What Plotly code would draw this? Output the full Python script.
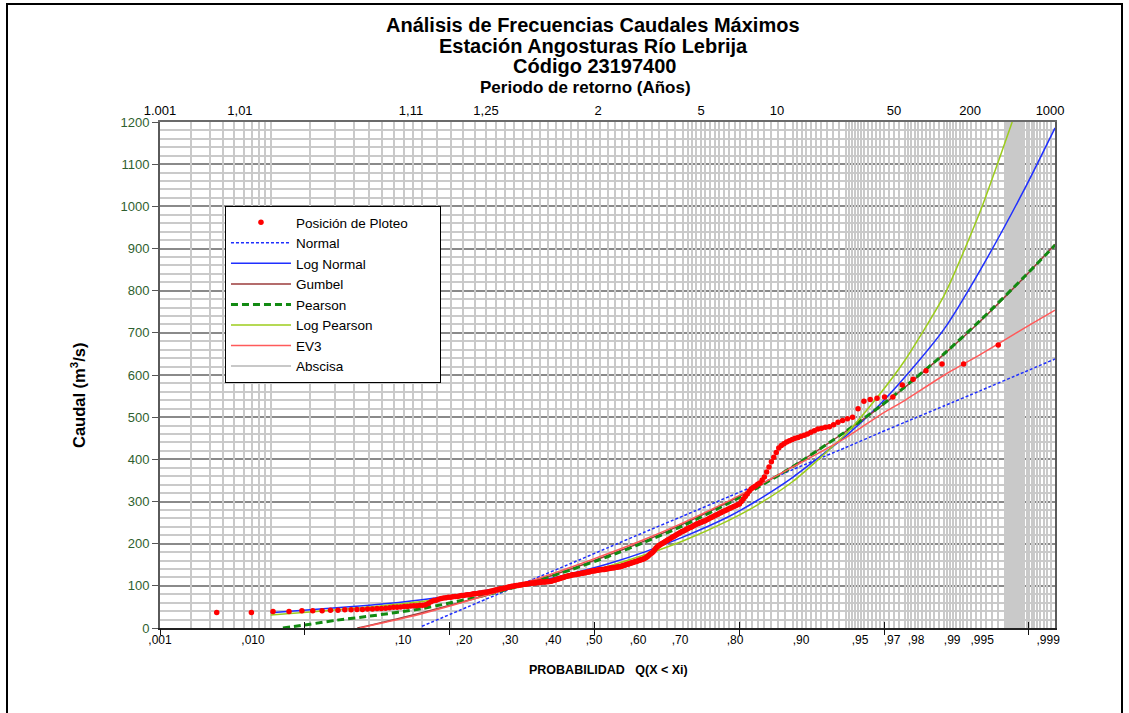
import numpy as np
import plotly.graph_objects as go
from statistics import NormalDist

_nd = NormalDist()


def zq(p):
    """Normal probability-paper coordinate for a non-exceedance probability."""
    return [None if (v is None) else _nd.inv_cdf(v) for v in p]


# ------------------------------------------------------------------ data
# observed annual maxima (sorted), plotted at Weibull positions i/(n+1)
caudal_obs = [
    37, 37, 39, 39, 41, 41, 41, 42, 42, 43,
    43, 44, 44, 45, 45, 46, 46, 47, 48, 49,
    49, 50, 51, 51, 52, 53, 53, 54, 54, 55,
    58, 62, 65, 66, 68, 70, 71, 72, 73, 73,
    74, 75, 75, 76, 77, 77, 78, 79, 79, 80,
    81, 81, 82, 83, 83, 84, 85, 85, 86, 87,
    88, 89, 90, 91, 92, 93, 93, 94, 95, 96,
    97, 98, 99, 99, 100, 101, 101, 102, 102, 103,
    104, 104, 105, 105, 106, 106, 107, 107, 107, 108,
    108, 108, 109, 109, 109, 109, 110, 110, 110, 111,
    112, 113, 114, 115, 116, 117, 118, 119, 120, 121,
    122, 123, 124, 124, 125, 126, 126, 127, 127, 128,
    128, 129, 130, 130, 131, 131, 132, 133, 133, 134,
    135, 135, 136, 136, 137, 137, 138, 138, 139, 139,
    139, 140, 140, 141, 141, 142, 142, 143, 143, 144,
    144, 145, 145, 146, 147, 148, 149, 150, 151, 152,
    153, 154, 155, 156, 157, 158, 159, 160, 161, 162,
    163, 164, 166, 168, 170, 173, 176, 178, 181, 185,
    189, 192, 195, 197, 199, 201, 203, 205, 207, 209,
    211, 213, 215, 217, 219, 221, 223, 225, 227, 229,
    230, 232, 234, 236, 238, 239, 241, 243, 245, 247,
    248, 250, 251, 253, 254, 256, 258, 260, 262, 264,
    266, 268, 270, 272, 274, 276, 278, 280, 282, 284,
    286, 288, 290, 292, 294, 300, 306, 312, 318, 325,
    330, 334, 337, 341, 344, 351, 358, 370, 382, 394,
    405, 416, 427, 433, 437, 441, 444, 447, 450, 452,
    455, 457, 460, 464, 468, 472, 474, 476, 477, 482,
    488, 492, 496, 500, 520, 538, 542, 545, 548, 548,
    576, 590, 610, 626, 626, 671,
]

# fitted distributions: probability Q(X<Xi) and discharge (m3/s)
p_normal = [0.1, 0.2, 0.3, 0.4, 0.5, 0.6, 0.7, 0.8, 0.85, 0.9, 0.95, 0.97, 0.98, 0.99, 0.995, 0.998, 0.999]
q_normal = [4, 68, 114, 153, 190, 227, 266, 312, 340, 376, 428, 463, 488, 527, 563, 607, 638]

p_lognormal = [0.01, 0.02, 0.05, 0.1, 0.2, 0.3, 0.4, 0.5, 0.6, 0.7, 0.8, 0.85, 0.9, 0.95, 0.97, 0.98, 0.99, 0.995, 0.998, 0.999]
q_lognormal = [36, 43, 54, 67, 89, 108, 129, 152, 180, 216, 265, 303, 358, 455, 530, 595, 710, 850, 1040, 1186]

p_gumbel = [0.042, 0.05, 0.1, 0.2, 0.3, 0.4, 0.5, 0.6, 0.7, 0.8, 0.85, 0.9, 0.95, 0.97, 0.98, 0.99, 0.995, 0.998, 0.999]
q_gumbel = [0, 6, 36, 77, 109, 140, 172, 206, 247, 300, 335, 384, 466, 524, 571, 650, 728, 832, 910]

p_pearson = [0.0125, 0.02, 0.03, 0.05, 0.1, 0.2, 0.3, 0.4, 0.5, 0.6, 0.7, 0.8, 0.85, 0.9, 0.95, 0.97, 0.98, 0.99, 0.995, 0.998, 0.999]
q_pearson = [0, 9, 18, 28, 46, 78, 108, 138, 169, 203, 243, 297, 333, 383, 466, 525, 572, 651, 730, 833, 908]

p_logpearson = [0.01, 0.02, 0.05, 0.1, 0.2, 0.3, 0.4, 0.5, 0.6, 0.7, 0.8, 0.85, 0.9, 0.95, 0.97, 0.98, 0.99, 0.995, 0.9974]
q_logpearson = [31, 38, 50, 63, 85, 104, 124, 146, 173, 207, 256, 292, 348, 460, 555, 635, 790, 990, 1200]

p_ev3 = [0.0436, 0.05, 0.1, 0.2, 0.3, 0.4, 0.5, 0.6, 0.7, 0.8, 0.85, 0.9, 0.95, 0.97, 0.98, 0.99, 0.995, 0.998, 0.999]
q_ev3 = [0, 5, 34, 77, 112, 144, 176, 210, 250, 302, 337, 382, 451, 505, 540, 600, 649, 711, 754]

# axis labelling
prob_labels = [",001", ",010", ",10", ",20", ",30", ",40", ",50", ",60", ",70", ",80",
               ",90", ",95", ",97", ",98", ",99", ",995", ",999"]
prob_label_pos = [-3.09, -2.448, -1.412, -0.991, -0.673, -0.376, -0.093, 0.211, 0.501, 0.881,
                  1.337, 1.744, 1.965, 2.131, 2.380, 2.587, 3.043]
tr_labels = ["1.001", "1,01", "1,11", "1,25", "2", "5", "10", "50", "200", "1000"]
tr_label_pos = [-3.09, -2.538, -1.357, -0.839, -0.065, 0.646, 1.171, 1.979, 2.504, 3.056]

# probability-paper grid (the "Abscisa" lines)
grid_p = np.concatenate([
    np.arange(0.002, 0.0101, 0.001),
    np.arange(0.02, 0.1001, 0.01),
    np.arange(0.12, 0.7001, 0.02),
    np.arange(0.71, 0.9001, 0.01),
    np.arange(0.905, 0.9501, 0.005),
    np.arange(0.952, 0.9801, 0.002),
    np.arange(0.981, 0.9901, 0.001),
    np.arange(0.9905, 0.99701, 0.0005),
    np.arange(0.99711, 0.99772, 0.00003),
    np.arange(0.9978, 0.99895, 0.0001),
])

ZMIN, ZMAX = -3.09, 3.09
FONT = "Arial, Liberation Sans, sans-serif"

fig = go.Figure()

n = len(caudal_obs)
p_obs = [(i + 1) / (n + 1) for i in range(n)]

line_specs = [
    ("Normal", p_normal, q_normal, dict(color="#1f2fff", width=1.5, dash="3px,2px"), 2),
    ("Log Normal", p_lognormal, q_lognormal, dict(color="#1f2fff", width=1.5), 3),
    ("Gumbel", p_gumbel, q_gumbel, dict(color="#9b3b3b", width=1.5), 4),
    ("Pearson", p_pearson, q_pearson, dict(color="#128a12", width=3, dash="7px,4px"), 5),
    ("Log Pearson", p_logpearson, q_logpearson, dict(color="#9ccc1c", width=1.5), 6),
    ("EV3", p_ev3, q_ev3, dict(color="#ff5a5a", width=1.5), 7),
]

# Abscisa (legend entry for the probability grid)
fig.add_trace(go.Scatter(x=[None], y=[None], mode="lines", name="Abscisa",
                         line=dict(color="#c8c8c8", width=2), legendrank=8))

for name, pp, qq, ln, rank in line_specs:
    fig.add_trace(go.Scatter(x=zq(pp), y=qq, mode="lines", name=name,
                             line=dict(shape="spline", smoothing=0.6, **ln),
                             legendrank=rank, hoverinfo="skip"))

fig.add_trace(go.Scatter(x=zq(p_obs), y=caudal_obs, mode="markers",
                         name="Posición de Ploteo" + "&nbsp;" * 7,
                         marker=dict(color="#ff0000", size=5.5, line=dict(width=0)),
                         legendrank=1))

# helper traces for the overlay axes
for ax in ["x2", "x3", "x4", "x5"]:
    fig.add_trace(go.Scatter(x=[None], y=[None], xaxis=ax, showlegend=False, hoverinfo="skip"))

fig.update_layout(
    width=1129, height=713,
    margin=dict(l=160, r=74, t=122, b=85),
    paper_bgcolor="white", plot_bgcolor="white",
    font=dict(family=FONT, color="black", size=12),
    showlegend=True,
    legend=dict(x=0.0726, y=0.834, xanchor="left", yanchor="top",
                bordercolor="black", borderwidth=1, bgcolor="white",
                font=dict(size=13.5, family=FONT), itemwidth=60,
                tracegroupgap=0),
    xaxis=dict(range=[ZMIN, ZMAX], tickmode="array", tickvals=prob_label_pos,
               ticktext=prob_labels, ticks="", showgrid=False, zeroline=False,
               showline=True, linecolor="#222", linewidth=2, mirror=False,
               tickfont=dict(size=12, color="black"), layer="above traces"),
    xaxis2=dict(range=[ZMIN, ZMAX], overlaying="x", side="top", tickmode="array",
                tickvals=tr_label_pos, ticktext=tr_labels, ticks="", showgrid=False,
                zeroline=False, showline=True, linecolor="#6a6a6a", linewidth=2,
                tickfont=dict(size=13, color="black")),
    xaxis3=dict(range=[ZMIN, ZMAX], overlaying="x", tickmode="array",
                tickvals=zq(list(grid_p)), showticklabels=False, ticks="",
                showgrid=True, gridcolor="#c9c9c9", gridwidth=2, zeroline=False,
                showline=False),
    xaxis4=dict(range=[ZMIN, ZMAX], overlaying="x", tickmode="linear", tick0=ZMIN, dtick=1,
                showticklabels=False, ticks="outside", ticklen=6, tickcolor="#111",
                tickwidth=1, showgrid=False, zeroline=False, showline=False),
    xaxis5=dict(range=[ZMIN, ZMAX], overlaying="x", tickmode="linear", tick0=ZMIN, dtick=1,
                showticklabels=False, ticks="inside", ticklen=6, tickcolor="#111",
                tickwidth=1, showgrid=False, zeroline=False, showline=False),
    yaxis=dict(range=[0, 1200], tickmode="linear", tick0=0, dtick=100,
               showgrid=True, gridcolor="#8a8a8a", gridwidth=1.5,
               minor=dict(dtick=20, showgrid=True, gridcolor="#cacaca", gridwidth=1.5),
               ticks="outside", ticklen=6, tickcolor="#555",
               showline=True, linecolor="#5a5a5a", linewidth=2, mirror=True,
               zeroline=False, tickfont=dict(size=13, color="#2f5f2f")),
)

px_x = lambda px: (px - 160) / 895.0
px_y = lambda py: (628 - py) / 506.0

annots = [
    ("<b>Análisis de Frecuencias Caudales Máximos</b>", 593, 25, 20),
    ("<b>Estación Angosturas Río Lebrija</b>", 593, 46, 20),
    ("<b>Código 23197400</b>", 594, 66, 20),
    ("<b>Periodo de retorno (Años)</b>", 585, 88, 17),
    ("<b>PROBABILIDAD&nbsp;&nbsp;&nbsp;Q(X &lt; Xi)</b>", 608, 670, 12.5),
]
for txt, xp, yp, fs in annots:
    fig.add_annotation(text=txt, x=px_x(xp), y=px_y(yp), xref="paper", yref="paper",
                       showarrow=False, xanchor="center", yanchor="middle",
                       font=dict(size=fs, family=FONT, color="black"))
fig.add_annotation(text="<b>Caudal (m<sup>3</sup>/s)</b>", x=px_x(78), y=px_y(396),
                   xref="paper", yref="paper", showarrow=False, textangle=-90,
                   xanchor="center", yanchor="middle",
                   font=dict(size=16.5, family=FONT, color="black"))

# outer frame of the chart
fig.add_shape(type="rect", xref="paper", yref="paper",
              x0=px_x(7), x1=px_x(1122), y0=px_y(730), y1=px_y(4),
              line=dict(color="black", width=2), fillcolor="rgba(0,0,0,0)", layer="above")

fig.write_html("out.html", config={"displayModeBar": False},
               post_script="document.body.style.margin='0';document.body.style.overflow='hidden';")
